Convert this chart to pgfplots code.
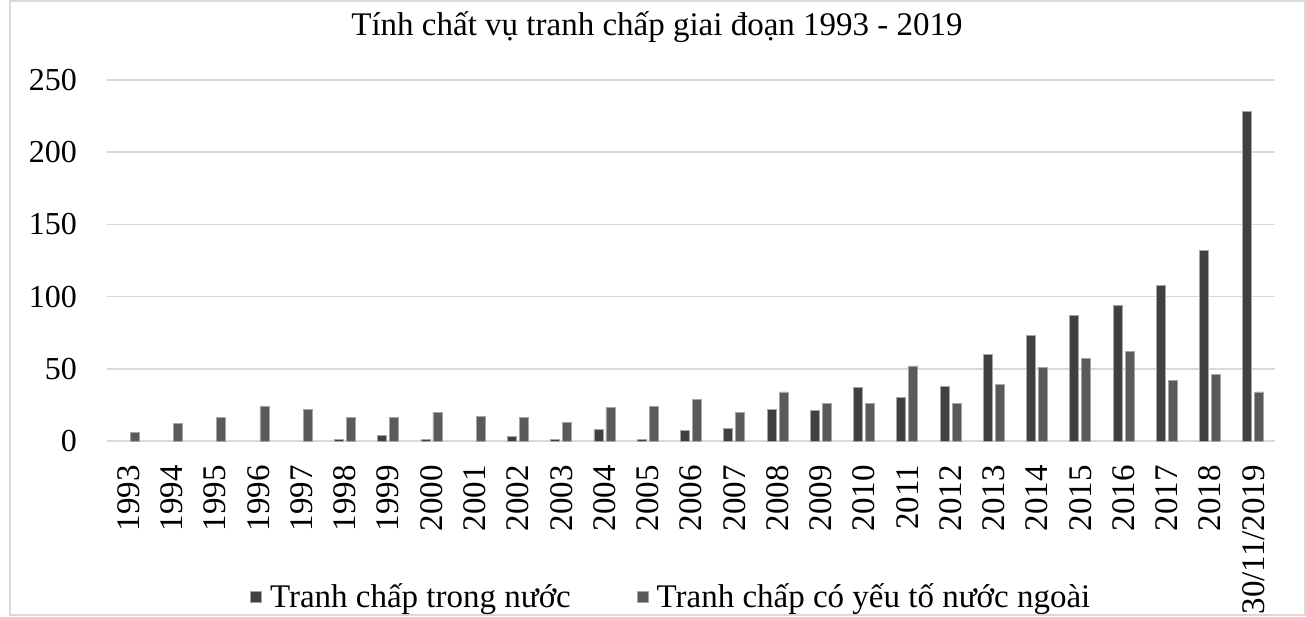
\documentclass[border=0pt]{standalone}
\usepackage{fontspec}
\setmainfont{Liberation Serif}
\usepackage{pgfplots}
\pgfplotsset{compat=1.18}
\definecolor{dom}{HTML}{404040}
\definecolor{fore}{HTML}{5A5A5A}
\definecolor{gridc}{HTML}{D9D9D9}
\begin{document}
\begin{tikzpicture}[x=1pt,y=1pt]
\useasboundingbox (-53.5,-87.5) rectangle (599.5,220.5);
\draw[gray!30, line width=0.8pt] (-48.5,-87) rectangle (599,220);
\begin{axis}[
  at={(0,0)}, anchor=south west,
  scale only axis, width=584pt, height=180.5pt,
  xmin=-0.5, xmax=26.5, ymin=0, ymax=250,
  ytick={0,50,...,250},
  xtick={0,...,26},
  xticklabels={1993,1994,1995,1996,1997,1998,1999,2000,2001,2002,2003,2004,2005,2006,2007,2008,2009,2010,2011,2012,2013,2014,2015,2016,2017,2018,30/11/2019},
  x tick label style={rotate=90, anchor=east, font=\fontsize{16.5}{17}\selectfont, xshift=-8.5pt},
  y tick label style={font=\fontsize{16}{16}\selectfont, xshift=-11.5pt},
  /pgf/number format/assume math mode=true,
  axis line style={draw=none},
  major tick length=0pt,
  ymajorgrids, grid style={gridc, line width=0.7pt},
  legend style={at={(0.484,-0.432)}, anchor=center, draw=none, fill=none,
    legend columns=2, font=\fontsize{16.5}{17}\selectfont,
    /tikz/every even column/.append style={column sep=31pt},
    /tikz/every odd column/.append style={column sep=2pt}},
  legend image code/.code={\draw[#1] (0pt,-2.8pt) rectangle (5.5pt,2.8pt);},
]
\addplot[ybar, bar width=4.5pt, bar shift=-3pt, fill=dom, draw=gray!70, line width=0.4pt] coordinates {
(5,1) (6,4) (7,1) (9,3) (10,1) (11,8) (12,1) (13,7) (14,9) (15,22) (16,21) (17,37) (18,30) (19,38) (20,60) (21,73) (22,87) (23,94) (24,108) (25,132) (26,228)};
\addlegendentry{Tranh chấp trong nước}
\addplot[ybar, bar width=4.5pt, bar shift=3pt, fill=fore, draw=gray!70, line width=0.4pt] coordinates {
(0,6) (1,12) (2,16) (3,24) (4,22) (5,16) (6,16) (7,20) (8,17) (9,16) (10,13) (11,23) (12,24) (13,29) (14,20) (15,34) (16,26) (17,26) (18,52) (19,26) (20,39) (21,51) (22,57) (23,62) (24,42) (25,46) (26,34)};
\addlegendentry{Tranh chấp có yếu tố nước ngoài}
\end{axis}
\node[font=\fontsize{16.5}{17}\selectfont] at (275,207) {Tính chất vụ tranh chấp giai đoạn 1993 - 2019};
\end{tikzpicture}
\end{document}
